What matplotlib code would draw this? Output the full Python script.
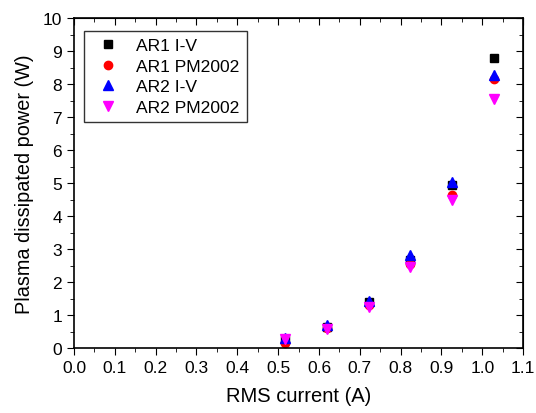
import matplotlib.pyplot as plt
from matplotlib.ticker import MultipleLocator

plt.rcParams['font.family'] = ['Liberation Sans', 'DejaVu Sans']

# RMS current (A)
current = [0.517, 0.619, 0.722, 0.824, 0.925, 1.028]

ar1_iv = [0.24, 0.63, 1.38, 2.66, 4.93, 8.78]
ar1_pm = [0.16, 0.60, 1.31, 2.56, 4.65, 8.15]
ar2_iv = [0.30, 0.70, 1.42, 2.81, 5.03, 8.28]
ar2_pm = [0.27, 0.58, 1.25, 2.44, 4.48, 7.55]

fig, ax = plt.subplots(figsize=(5.36, 4.14), dpi=100)
fig.subplots_adjust(left=0.138, right=0.976, top=0.954, bottom=0.157)

ax.plot(current, ar1_iv, 's', color='black', ms=5.3, label='AR1 I-V', lw=0)
ax.plot(current, ar1_pm, 'o', color='red', ms=6, label='AR1 PM2002', lw=0)
ax.plot(current, ar2_iv, '^', color='blue', ms=6.8, label='AR2 I-V', lw=0)
ax.plot(current, ar2_pm, 'v', color='magenta', ms=6.8, label='AR2 PM2002', lw=0)

ax.set_xlim(0, 1.1)
ax.set_ylim(0, 10)
ax.xaxis.set_major_locator(MultipleLocator(0.1))
ax.xaxis.set_minor_locator(MultipleLocator(0.05))
ax.yaxis.set_major_locator(MultipleLocator(1))
ax.yaxis.set_minor_locator(MultipleLocator(0.5))
ax.set_xticklabels([f'{v:.1f}' for v in ax.get_xticks()])

ax.tick_params(which='both', direction='out', top=False, right=False, labelsize=12.5)
ax.tick_params(which='major', length=5)
ax.tick_params(which='minor', length=3)
sec_x = ax.secondary_xaxis('top')
sec_x.xaxis.set_major_locator(MultipleLocator(0.1))
sec_x.xaxis.set_minor_locator(MultipleLocator(0.05))
sec_x.tick_params(which='both', direction='in', labeltop=False)
sec_x.tick_params(which='major', length=5)
sec_x.tick_params(which='minor', length=3)
sec_y = ax.secondary_yaxis('right')
sec_y.yaxis.set_major_locator(MultipleLocator(1))
sec_y.yaxis.set_minor_locator(MultipleLocator(0.5))
sec_y.tick_params(which='both', direction='in', labelright=False)
sec_y.tick_params(which='major', length=5)
sec_y.tick_params(which='minor', length=3)

for s in ax.spines.values():
    s.set_linewidth(1.2)

ax.set_xlabel('RMS current (A)', fontsize=14.5, labelpad=8)
ax.set_ylabel('Plasma dissipated power (W)', fontsize=14.3, labelpad=6)

leg = ax.legend(loc='upper left', fontsize=12.6, frameon=True, fancybox=False,
                edgecolor='black', handletextpad=0.6, borderpad=0.4,
                labelspacing=0.3, borderaxespad=0, bbox_to_anchor=(0.022, 0.96))
leg.get_frame().set_linewidth(1.0)

plt.savefig('out.png', dpi=100)
